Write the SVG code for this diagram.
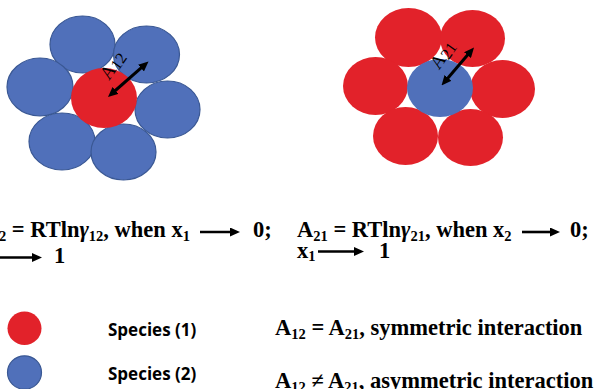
<svg xmlns="http://www.w3.org/2000/svg" width="598" height="389" viewBox="0 0 598 389">
<style>
.red{fill:#E2222A;}
.blue{fill:#5070BA;stroke:#3A5894;stroke-width:1.2;}
.blue2{fill:#5070BA;}
.eq{font-family:"Liberation Serif","Times New Roman",serif;font-weight:bold;font-size:22.5px;fill:#000;}
.sub{font-size:14.5px;}
.lbl{font-family:"Liberation Serif","Times New Roman",serif;font-size:19px;fill:#000;}
.leg{font-family:"Open Sans","Liberation Sans",sans-serif;font-weight:bold;font-size:17px;fill:#000;}
.arr{stroke:#000;stroke-width:2.6;fill:none;}
.darr{stroke:#000;stroke-width:3;fill:none;}
</style>
<defs>
<marker id="ah" viewBox="0 0 10 9" refX="4" refY="4.5" markerWidth="10" markerHeight="9" markerUnits="userSpaceOnUse" orient="auto-start-reverse">
<path d="M0,0 L10,4.5 L0,9 z" fill="#000"/>
</marker>
</defs>

<g id="cluster-left">
<ellipse class="blue" cx="82.5" cy="44.5" rx="32.5" ry="28.5"/>
<ellipse class="blue" cx="146.5" cy="54.5" rx="33" ry="28.5"/>
<ellipse class="blue" cx="40" cy="87" rx="33" ry="29"/>
<ellipse class="blue" cx="167.5" cy="109.5" rx="32.5" ry="28.5"/>
<ellipse class="blue" cx="62" cy="141.5" rx="33" ry="28.5"/>
<ellipse class="blue" cx="123.5" cy="152" rx="32.5" ry="28"/>
<ellipse class="red" cx="104" cy="98" rx="33" ry="30"/>
</g>

<g id="cluster-right">
<ellipse class="red" cx="408.5" cy="37.5" rx="33.5" ry="29.5"/>
<ellipse class="red" cx="472.5" cy="38.5" rx="32.5" ry="28.5"/>
<ellipse class="red" cx="375.5" cy="86" rx="32.5" ry="29"/>
<ellipse class="red" cx="502.5" cy="89" rx="32.5" ry="29"/>
<ellipse class="red" cx="405.5" cy="136" rx="32.5" ry="29"/>
<ellipse class="red" cx="470.5" cy="137.5" rx="32.5" ry="28.5"/>
<ellipse class="blue2" cx="440" cy="88" rx="33" ry="29"/>
</g>

<g id="connectors">
<line class="darr" x1="112.5" y1="93" x2="144" y2="65.4" marker-start="url(#ah)" marker-end="url(#ah)"/>
<line class="darr" x1="445.4" y1="80.9" x2="470.1" y2="52.1" marker-start="url(#ah)" marker-end="url(#ah)"/>
<line class="arr" x1="200" y1="232" x2="234" y2="232" marker-end="url(#ah)"/>
<line class="arr" x1="-5" y1="257.5" x2="36" y2="257.5" marker-end="url(#ah)"/>
<line class="arr" x1="522" y1="232" x2="554" y2="232" marker-end="url(#ah)"/>
<line class="arr" x1="318" y1="251.5" x2="358" y2="251.5" marker-end="url(#ah)"/>
</g>

<g id="labels-clusters">
<text class="lbl" transform="translate(109,81) rotate(-55)">A<tspan font-size="16" dy="2">12</tspan></text>
<text class="lbl" transform="translate(439,70.5) rotate(-55)">A<tspan font-size="16" dy="2">21</tspan></text>
</g>

<g id="equation-left">
<text class="eq" x="190" y="237" text-anchor="end">A<tspan class="sub" dy="4">12</tspan><tspan dy="-4"> = RTln</tspan><tspan font-style="italic">γ</tspan><tspan class="sub" dy="4">12</tspan><tspan dy="-4">, when x</tspan><tspan class="sub" dy="4">1</tspan></text>
<text class="eq" x="253" y="237">0;</text>
<text class="eq" x="54" y="263">1</text>
</g>

<g id="equation-right">
<text class="eq" x="297" y="237">A<tspan class="sub" dy="4">21</tspan><tspan dy="-4"> = RTln</tspan><tspan font-style="italic">γ</tspan><tspan class="sub" dy="4">21</tspan><tspan dy="-4">, when x</tspan><tspan class="sub" dy="4">2</tspan></text>
<text class="eq" x="570" y="237">0;</text>
<text class="eq" x="297" y="257.5">x<tspan class="sub" dy="3">1</tspan></text>
<text class="eq" x="379" y="257.5">1</text>
</g>

<g id="legend-species1">
<ellipse class="red" cx="24.5" cy="328.3" rx="17" ry="16.7"/>
<text class="leg" x="108" y="336">Species (1)</text>
</g>
<g id="legend-species2">
<ellipse class="blue" cx="24.5" cy="372.5" rx="17" ry="16.7"/>
<text class="leg" x="108" y="380">Species (2)</text>
</g>

<g id="legend-relations">
<text class="eq" x="275" y="335">A<tspan class="sub" dy="4">12</tspan><tspan dy="-4"> = A</tspan><tspan class="sub" dy="4">21</tspan><tspan dy="-4">, symmetric interaction</tspan></text>
<text class="eq" x="275" y="388">A<tspan class="sub" dy="4">12</tspan><tspan dy="-4">  ≠ A</tspan><tspan class="sub" dy="4">21</tspan><tspan dy="-4">, asymmetric interaction</tspan></text>
</g>
</svg>
